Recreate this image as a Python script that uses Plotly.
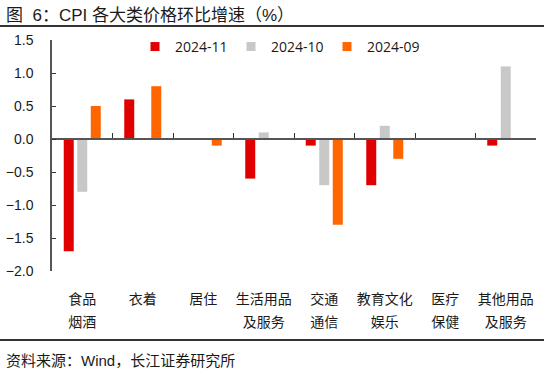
import plotly.graph_objects as go

categories = ["食品烟酒", "衣着", "居住", "生活用品及服务", "交通通信", "教育文化娱乐", "医疗保健", "其他用品及服务"]
label_line1 = ["食品", "衣着", "居住", "生活用品", "交通", "教育文化", "医疗", "其他用品"]
label_line2 = ["烟酒", "", "", "及服务", "通信", "娱乐", "保健", "及服务"]
series_names = ["2024-11", "2024-10", "2024-09"]
v_2024_11 = [-1.7, 0.6, 0.0, -0.6, -0.1, -0.7, 0.0, -0.1]
v_2024_10 = [-0.8, 0.0, 0.0, 0.1, -0.7, 0.2, 0.0, 1.1]
v_2024_09 = [0.5, 0.8, -0.1, 0.0, -1.3, -0.3, 0.0, 0.0]
colors = ["#E00000", "#C8C8C8", "#FF6600"]
y_ticks = [1.5, 1.0, 0.5, 0.0, -0.5, -1.0, -1.5, -2.0]

y_min, y_max = min(y_ticks), max(y_ticks)
n = len(categories)
zero_pos = (0 - y_min) / (y_max - y_min)

CJK = "Noto Sans CJK SC"
MIX = "Liberation Sans, Arial, Noto Sans CJK SC"
NUM = "Liberation Sans, Arial"
PW, PH = 484, 231

fig = go.Figure()
for name, vals, c in zip(series_names, [v_2024_11, v_2024_10, v_2024_09], colors):
    fig.add_trace(go.Bar(x=categories, y=vals, name=name, legendgroup=name, showlegend=False,
                         marker=dict(color=c, line=dict(width=0))))
# legend entries with small square keys
for name, c in zip(series_names, colors):
    fig.add_trace(go.Scatter(x=[None], y=[None], name=name, legendgroup=name, mode="markers",
                             marker=dict(symbol="square", size=9, color=c), showlegend=True))

fig.add_trace(go.Scatter(x=list(range(n)), y=[0] * n, xaxis="x3", mode="markers",
                         marker=dict(opacity=0), showlegend=False, hoverinfo="skip"))
fig.add_trace(go.Scatter(x=list(range(n)), y=[0] * n, xaxis="x2", mode="markers",
                         marker=dict(opacity=0), showlegend=False, hoverinfo="skip"))

fig.update_layout(
    width=550, height=377,
    margin=dict(l=52, r=14, t=40, b=106),
    paper_bgcolor="white", plot_bgcolor="white",
    barmode="group", bargap=0.33, bargroupgap=0.26,
    font=dict(family=CJK, size=14, color="#1a1a1a"),
    showlegend=True,
    legend=dict(orientation="h", x=(135 - 52) / PW, xanchor="left", y=0.97, yanchor="middle",
                font=dict(family="Open Sans", size=14, color="#1a1a1a"),
                entrywidth=51, entrywidthmode="pixels", itemwidth=30,
                bgcolor="rgba(0,0,0,0)", traceorder="normal"),
    xaxis=dict(tickvals=categories, ticktext=label_line1, showline=False, ticks="",
               showgrid=False, zeroline=False, ticklabelstandoff=18, automargin=False,
               tickfont=dict(family=CJK, size=14, color="#1a1a1a")),
    xaxis2=dict(overlaying="x", anchor="free", position=zero_pos, range=[-0.5, n - 0.5],
                tickvals=[i + 0.5 for i in range(n)], ticks="inside", ticklen=5, tickwidth=1,
                tickcolor="#333333", showline=True, linecolor="#555555", linewidth=1.5,
                showticklabels=False, showgrid=False, zeroline=False, automargin=False),
    xaxis3=dict(overlaying="x", anchor="y", side="bottom", range=[-0.5, n - 0.5],
                tickvals=list(range(n)), ticktext=label_line2, showline=False, ticks="",
                showgrid=False, zeroline=False, ticklabelstandoff=41, automargin=False,
                tickfont=dict(family=CJK, size=14, color="#1a1a1a")),
    yaxis=dict(range=[y_min, y_max], tickvals=y_ticks, tickformat=".1f",
               ticks="inside", ticklen=4, tickcolor="#333333", showline=True,
               linecolor="#555555", linewidth=1.5, showgrid=False, zeroline=False,
               ticklabelstandoff=14, automargin=False,
               tickfont=dict(family=NUM, size=14, color="#1a1a1a")),
)

fig.add_annotation(text="图  6：CPI 各大类价格环比增速（%）", xref="paper", yref="paper",
                   x=-48 / PW, y=1 + 24 / PH, xanchor="left", yanchor="middle", showarrow=False,
                   font=dict(family=MIX, size=17, color="#1a1a1a"))
fig.add_shape(type="line", xref="paper", yref="paper", x0=-52 / PW, x1=1 + 8 / PW,
              y0=1 + 14 / PH, y1=1 + 14 / PH, line=dict(color="#333333", width=2))
fig.add_shape(type="line", xref="paper", yref="paper", x0=-52 / PW, x1=1 + 8 / PW,
              y0=-69 / PH, y1=-69 / PH, line=dict(color="#333333", width=2))
fig.add_annotation(text="资料来源：Wind，长江证券研究所", xref="paper", yref="paper",
                   x=-48 / PW, y=-89 / PH, xanchor="left", yanchor="middle", showarrow=False,
                   font=dict(family=MIX, size=15, color="#1a1a1a"))

fig.write_html("out.html", config={"displayModeBar": False},
               post_script="document.body.style.margin='0';")
